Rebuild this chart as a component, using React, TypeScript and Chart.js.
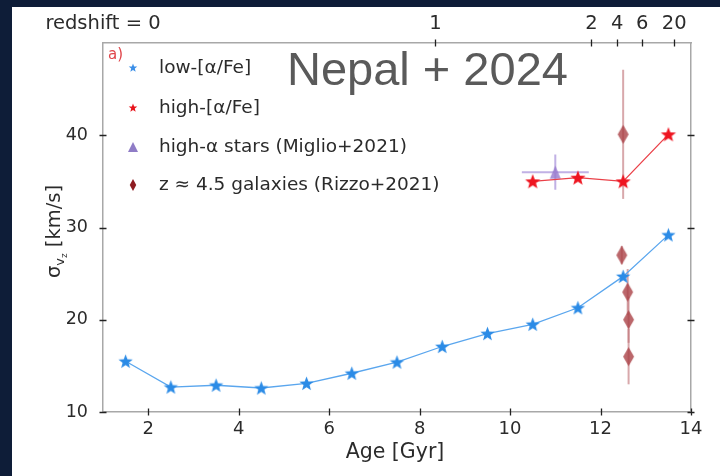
import React, { useEffect, useRef } from "react";
import { Chart, registerables } from "chart.js";
Chart.register(...registerables);

const ageLow = [1.5, 2.5, 3.5, 4.5, 5.5, 6.5, 7.5, 8.5, 9.5, 10.5, 11.5, 12.5, 13.5];
const sigmaLow = [15.5, 12.7, 12.9, 12.6, 13.1, 14.2, 15.4, 17.1, 18.5, 19.5, 21.3, 24.7, 29.2];
const ageHigh = [10.5, 11.5, 12.5, 13.5];
const sigmaHigh = [35.0, 35.4, 35.0, 40.1];
const ageMiglio = [11.0];
const sigmaMiglio = [36.0];
const ageErrMiglio = [0.74];
const sigmaErrMiglio = [1.9];
const ageRizzo = [12.5, 12.47, 12.6, 12.62, 12.62];
const sigmaRizzo = [40.1, 27.0, 23.0, 20.0, 16.0];
const sigmaErrRizzo = [7.0, 1.0, 2.5, 2.5, 3.0];
const xTicks = [2, 4, 6, 8, 10, 12, 14];
const yTicks = [10, 20, 30, 40];
const redshiftAges = [1, 8.35, 11.8, 12.37, 12.92, 13.63];
const redshiftLabels = ["redshift = 0", "1", "2", "4", "6", "20"];
const legendLabels = [
  "low-[α/Fe]",
  "high-[α/Fe]",
  "high-α stars (Miglio+2021)",
  "z ≈ 4.5 galaxies (Rizzo+2021)",
];

const FONT = "'DejaVu Sans', sans-serif";
const TXT = "#2b2b2b";

function starPath(ctx: CanvasRenderingContext2D, cx: number, cy: number, r: number) {
  ctx.beginPath();
  for (let i = 0; i < 10; i++) {
    const rad = i % 2 === 0 ? r : r * 0.42;
    const a = -Math.PI / 2 + (i * Math.PI) / 5;
    const px = cx + rad * Math.cos(a);
    const py = cy + rad * Math.sin(a);
    if (i === 0) ctx.moveTo(px, py);
    else ctx.lineTo(px, py);
  }
  ctx.closePath();
}

function starCanvas(r: number, fill: string) {
  const s = Math.ceil(r * 2 + 2);
  const c = document.createElement("canvas");
  c.width = s;
  c.height = s;
  const ctx = c.getContext("2d")!;
  starPath(ctx, s / 2, s / 2 + r * 0.08, r);
  ctx.fillStyle = fill;
  ctx.fill();
  return c;
}

function diamondPath(ctx: CanvasRenderingContext2D, cx: number, cy: number, w: number, h: number) {
  ctx.beginPath();
  ctx.moveTo(cx, cy - h / 2);
  ctx.lineTo(cx + w / 2, cy);
  ctx.lineTo(cx, cy + h / 2);
  ctx.lineTo(cx - w / 2, cy);
  ctx.closePath();
}

function diamondCanvas(w: number, h: number, fill: string) {
  const c = document.createElement("canvas");
  c.width = Math.ceil(w + 2);
  c.height = Math.ceil(h + 2);
  const ctx = c.getContext("2d")!;
  diamondPath(ctx, c.width / 2, c.height / 2, w, h);
  ctx.fillStyle = fill;
  ctx.fill();
  return c;
}

function triPath(ctx: CanvasRenderingContext2D, cx: number, cy: number, w: number, h: number) {
  ctx.beginPath();
  ctx.moveTo(cx, cy - h * 0.6);
  ctx.lineTo(cx + w / 2, cy + h * 0.4);
  ctx.lineTo(cx - w / 2, cy + h * 0.4);
  ctx.closePath();
}

function triCanvas(w: number, h: number, fill: string) {
  const c = document.createElement("canvas");
  c.width = Math.ceil(w + 2);
  c.height = Math.ceil(h + 2);
  const ctx = c.getContext("2d")!;
  triPath(ctx, c.width / 2, c.height / 2 + h * 0.1, w, h);
  ctx.fillStyle = fill;
  ctx.fill();
  return c;
}

const errorBarPlugin = {
  id: "errorBars",
  beforeDatasetsDraw(chart: any) {
    const { ctx, scales } = chart;
    const xs = scales.x;
    const ys = scales.y;
    ctx.save();
    ctx.strokeStyle = "rgba(160,135,215,0.65)";
    ctx.lineWidth = 2;
    ageMiglio.forEach((a, i) => {
      const s = sigmaMiglio[i];
      ctx.beginPath();
      ctx.moveTo(xs.getPixelForValue(a - ageErrMiglio[i]), ys.getPixelForValue(s));
      ctx.lineTo(xs.getPixelForValue(a + ageErrMiglio[i]), ys.getPixelForValue(s));
      ctx.moveTo(xs.getPixelForValue(a), ys.getPixelForValue(s - sigmaErrMiglio[i]));
      ctx.lineTo(xs.getPixelForValue(a), ys.getPixelForValue(s + sigmaErrMiglio[i]));
      ctx.stroke();
    });
    ctx.strokeStyle = "rgba(190,110,115,0.6)";
    ctx.lineWidth = 2;
    ageRizzo.forEach((a, i) => {
      const s = sigmaRizzo[i];
      ctx.beginPath();
      ctx.moveTo(xs.getPixelForValue(a), ys.getPixelForValue(s - sigmaErrRizzo[i]));
      ctx.lineTo(xs.getPixelForValue(a), ys.getPixelForValue(s + sigmaErrRizzo[i]));
      ctx.stroke();
    });
    ctx.restore();
  },
};

const decorPlugin = {
  id: "decor",
  afterDraw(chart: any) {
    const { ctx, chartArea, scales } = chart;
    const { left, top, right, bottom } = chartArea;
    ctx.save();
    ctx.strokeStyle = "#222";
    ctx.lineWidth = 1.3;
    const tl = 3.5;
    ctx.beginPath();
    xTicks.forEach((v) => {
      const px = Math.round(scales.x.getPixelForValue(v)) + 0.5;
      ctx.moveTo(px, bottom - tl);
      ctx.lineTo(px, bottom + tl);
    });
    redshiftAges.forEach((v, i) => {
      if (i === 0) return;
      const px = Math.round(scales.x2.getPixelForValue(v)) + 0.5;
      ctx.moveTo(px, top - tl);
      ctx.lineTo(px, top + tl);
    });
    yTicks.forEach((v) => {
      const py = Math.round(scales.y.getPixelForValue(v)) + 0.5;
      ctx.moveTo(left - tl, py);
      ctx.lineTo(left + tl, py);
      ctx.moveTo(right - tl, py);
      ctx.lineTo(right + tl, py);
    });
    ctx.stroke();

    // legend
    const mx = left + 30;
    const tx = left + 56;
    const rows = [top + 25, top + 65, top + 104, top + 142];
    ctx.fillStyle = "#3b8fe8";
    starPath(ctx, mx, rows[0], 4.5);
    ctx.fill();
    ctx.fillStyle = "#e8141c";
    starPath(ctx, mx, rows[1], 4.5);
    ctx.fill();
    ctx.fillStyle = "#8f7cc6";
    triPath(ctx, mx, rows[2] + 1, 10, 10);
    ctx.fill();
    ctx.fillStyle = "#8e1c22";
    diamondPath(ctx, mx, rows[3], 6.5, 12);
    ctx.fill();
    ctx.font = `18.5px ${FONT}`;
    ctx.fillStyle = TXT;
    ctx.textBaseline = "middle";
    ctx.textAlign = "left";
    legendLabels.forEach((t, i) => ctx.fillText(t, tx, rows[i]));

    // panel label
    ctx.font = `15px ${FONT}`;
    ctx.fillStyle = "#e0474c";
    ctx.fillText("a)", left + 5, top + 12);

    // watermark title
    ctx.font = `47px 'Liberation Sans', Arial, sans-serif`;
    ctx.fillStyle = "#5a5a5a";
    ctx.textBaseline = "alphabetic";
    ctx.fillText("Nepal + 2024", 275, 78);

    // x title
    ctx.font = `20.5px ${FONT}`;
    ctx.fillStyle = TXT;
    ctx.textAlign = "center";
    ctx.textBaseline = "middle";
    ctx.fillText("Age [Gyr]", (left + right) / 2 - 2, 446);

    // y title with subscripts
    ctx.translate(42, (top + bottom) / 2 + 4);
    ctx.rotate(-Math.PI / 2);
    const big = `19.5px ${FONT}`;
    const sub = `13px ${FONT}`;
    const sub2 = `9px ${FONT}`;
    ctx.font = big;
    const w1 = ctx.measureText("σ").width;
    const w4 = ctx.measureText(" [km/s]").width;
    ctx.font = sub;
    const w2 = ctx.measureText("v").width;
    ctx.font = sub2;
    const w3 = ctx.measureText("z").width;
    const total = w1 + w2 + w3 + w4;
    let cx = -total / 2;
    ctx.textAlign = "left";
    ctx.textBaseline = "alphabetic";
    ctx.font = big;
    ctx.fillText("σ", cx, 6);
    cx += w1;
    ctx.font = sub;
    ctx.fillText("v", cx, 10);
    cx += w2;
    ctx.font = sub2;
    ctx.fillText("z", cx, 13);
    cx += w3;
    ctx.font = big;
    ctx.fillText(" [km/s]", cx, 6);
    ctx.restore();
  },
};

export default function App() {
  const ref = useRef<HTMLCanvasElement | null>(null);
  useEffect(() => {
    if (!ref.current) return;
    const blueStar = starCanvas(7.5, "#2b8be6");
    const redStar = starCanvas(8, "#ee1520");
    const tri = triCanvas(11, 13, "rgba(150,120,205,0.8)");
    const dia = diamondCanvas(11, 19, "rgba(170,65,70,0.8)");
    const border = { display: true, color: "#a8a8a8", width: 1.5 };
    const chart = new Chart(ref.current, {
      type: "scatter",
      data: {
        datasets: [
          {
            label: legendLabels[0],
            data: ageLow.map((a, i) => ({ x: a, y: sigmaLow[i] })),
            showLine: true,
            borderColor: "#5aa6ee",
            borderWidth: 1.3,
            pointStyle: blueStar as any,
            pointRadius: 7,
          },
          {
            label: legendLabels[1],
            data: ageHigh.map((a, i) => ({ x: a, y: sigmaHigh[i] })),
            showLine: true,
            borderColor: "#ea4048",
            borderWidth: 1.3,
            pointStyle: redStar as any,
            pointRadius: 7,
          },
          {
            label: legendLabels[2],
            data: ageMiglio.map((a, i) => ({ x: a, y: sigmaMiglio[i] })),
            pointStyle: tri as any,
            pointRadius: 7,
          },
          {
            label: legendLabels[3],
            data: ageRizzo.map((a, i) => ({ x: a, y: sigmaRizzo[i] })),
            pointStyle: dia as any,
            pointRadius: 9,
          },
        ],
      },
      options: {
        animation: false,
        responsive: false,
        devicePixelRatio: 1,
        layout: { padding: 0 },
        plugins: { legend: { display: false }, tooltip: { enabled: false } },
        scales: {
          x: {
            type: "linear",
            position: "bottom",
            min: 1,
            max: 14,
            afterBuildTicks: (s: any) => {
              s.ticks = xTicks.map((v) => ({ value: v }));
            },
            afterFit: (s: any) => {
              s.height = 64;
            },
            ticks: { font: { family: FONT, size: 18 }, color: TXT, padding: 7, autoSkip: false, maxRotation: 0 },
            grid: { display: false, drawTicks: false },
            border,
          },
          x2: {
            type: "linear",
            position: "top",
            min: 1,
            max: 14,
            afterBuildTicks: (s: any) => {
              s.ticks = redshiftAges.map((v) => ({ value: v }));
            },
            afterFit: (s: any) => {
              s.height = 36;
            },
            ticks: {
              font: { family: FONT, size: 19.5 },
              color: TXT,
              padding: 7,
              autoSkip: false,
              maxRotation: 0,
              callback: (_v: any, i: number) => redshiftLabels[i],
            },
            grid: { display: false, drawTicks: false },
            border,
          },
          y: {
            type: "linear",
            position: "left",
            min: 10,
            max: 50,
            afterBuildTicks: (s: any) => {
              s.ticks = yTicks.map((v) => ({ value: v }));
            },
            afterFit: (s: any) => {
              s.width = 91;
            },
            ticks: { font: { family: FONT, size: 17.5 }, color: TXT, padding: 15 },
            grid: { display: false, drawTicks: false },
            border,
          },
          y2: {
            type: "linear",
            position: "right",
            min: 10,
            max: 50,
            afterBuildTicks: (s: any) => {
              s.ticks = yTicks.map((v) => ({ value: v }));
            },
            afterFit: (s: any) => {
              s.width = 29;
            },
            ticks: { display: false },
            grid: { display: false, drawTicks: false },
            border,
          },
        },
      } as any,
      plugins: [errorBarPlugin, decorPlugin],
    });
    return () => chart.destroy();
  }, []);

  return (
    <div
      style={{
        position: "fixed",
        left: 0,
        top: 0,
        width: 720,
        height: 476,
        background: "#0e1d38",
        overflow: "hidden",
      }}
    >
      <div
        style={{
          position: "absolute",
          left: 12,
          top: 7,
          width: 708,
          height: 469,
          background: "#ffffff",
        }}
      >
        <canvas ref={ref} width={708} height={469} style={{ display: "block" }} />
      </div>
    </div>
  );
}
